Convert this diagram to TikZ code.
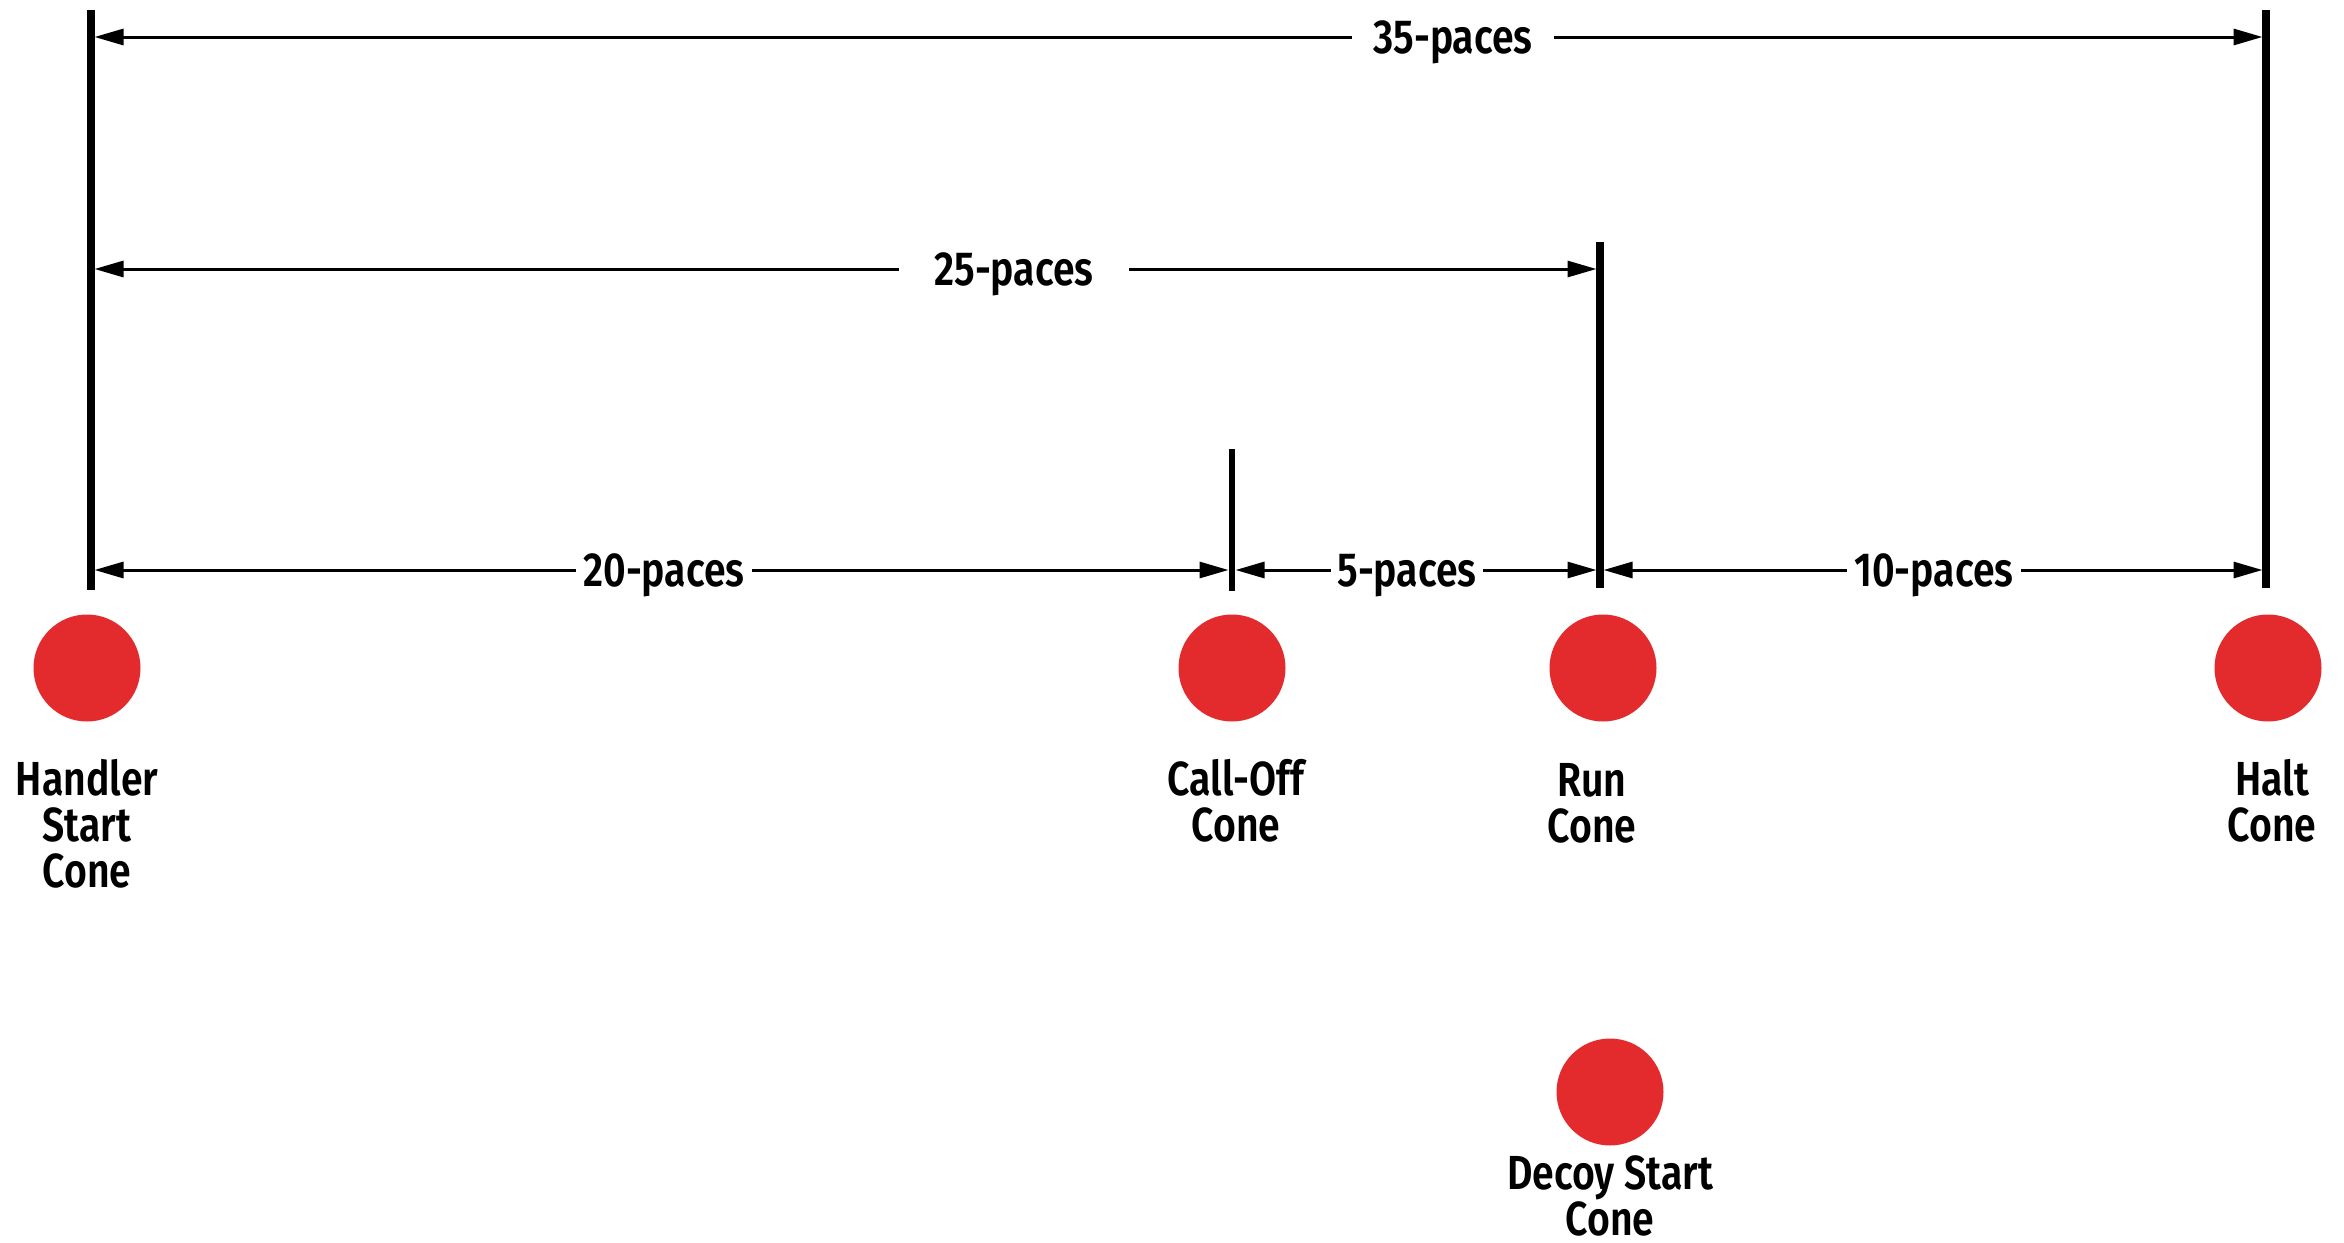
\documentclass[tikz,border=0pt]{standalone}
\usepackage{fontspec}
\setmainfont{Fira Sans}[UprightFont=* SemiBold, FakeStretch=0.82]
\usetikzlibrary{arrows.meta,positioning}
\definecolor{conered}{RGB}{227,43,45}

\tikzset{
Cone/.style={fill=conered, circle, inner sep=0pt, minimum size=10.7mm},
ConeLabel/.style={inner sep=0pt, align=center, font=\fontsize{13.6pt}{13.1pt}\selectfont},
Post/.style={draw=black, line width=0.75mm},
ThinPost/.style={draw=black, line width=0.6mm},
PaceLine/.style={arrows={-Triangle[length=2.9mm,width=1.6mm]},draw=black,line width=0.3mm,shorten >=0.35mm},
PaceText/.style={inner ysep=0pt, text height=9.4pt, text depth=0pt, font=\fontsize{13.6pt}{13.1pt}\selectfont},
}

\begin{document}
\begin{tikzpicture}[x=0.1mm, y=-0.1mm]
	\useasboundingbox (0,0) rectangle (2344,1243);

	% posts
	\foreach \m/\x/\t/\b in {hs/91/10/590, rn/1600/242/588, ht/2266/10/588} {
		\coordinate (\m-top) at (\x,\t);
		\coordinate (\m-bot) at (\x,\b);
		\draw[Post] (\m-top) -- (\m-bot);
	}
	\coordinate (co-top) at (1232,449);
	\coordinate (co-bot) at (1232,591);
	\draw[ThinPost] (co-top) -- (co-bot);

	% distances
	\foreach \d/\x/\y/\gap/\a/\b in {35/1453/37/2.1mm/hs/ht, 25/1014/269/3.5mm/hs/rn,
			20/664/570/0.7mm/hs/co, 5/1407/570/0.6mm/co/rn, 10/1934/570/0.7mm/rn/ht} {
		\node[PaceText, inner xsep=\gap] (p\d) at (\x,\y) {\d-paces};
		\draw[PaceLine] (p\d.west) -- (p\d.west -| \a-top);
		\draw[PaceLine] (p\d.east) -- (p\d.east -| \b-top);
	}

	% cones
	\foreach \cone/\x in {hs/87, co/1232, rn/1603, ht/2268}
		\node[Cone] (\cone) at (\x,668) {};
	\node[Cone] (dc) at (1610,1092) {};

	\node[ConeLabel, below=3.6mm of hs] (hs-label) {Handler\\Start\\Cone};
	\node[ConeLabel, below=3.6mm of co, xshift=0.4mm] (co-label) {Call-Off\\Cone};
	\node[ConeLabel, below=4.05mm of rn, xshift=-1.1mm] (rn-label) {Run\\Cone};
	\node[ConeLabel, below=3.6mm of ht, xshift=0.4mm] (ht-label) {Halt\\Cone};
	\node[ConeLabel, below=0.9mm of dc] (dc-label) {Decoy Start\\Cone};
\end{tikzpicture}
\end{document}
